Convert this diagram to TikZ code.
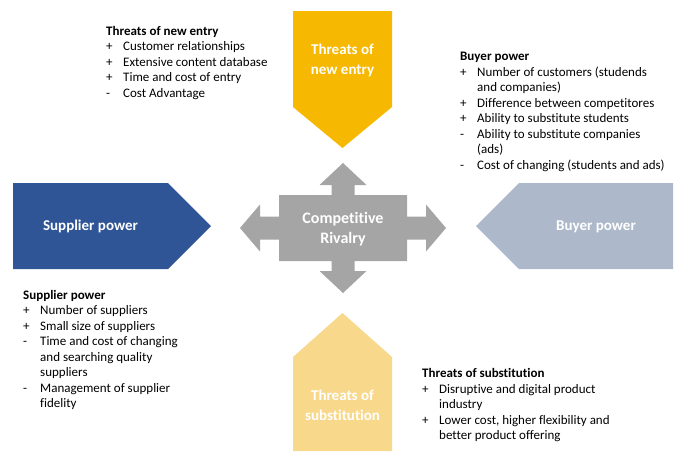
\documentclass[tikz,border=0pt]{standalone}
\usepackage{fontspec}
\setmainfont[Ligatures=NoCommon]{Carlito}
\usepackage{tikz}

\definecolor{entrygold}{HTML}{F6B800}
\definecolor{substgold}{HTML}{F8D98C}
\definecolor{supplierblue}{HTML}{2F5597}
\definecolor{buyerblue}{HTML}{ADB9CA}
\definecolor{rivalgray}{HTML}{A5A5A5}

% one list line: sign in a fixed box, then the text
\newcommand{\signitem}[2]{\makebox[17pt][l]{#1}#2}
\newcommand{\contline}[1]{\hspace*{17pt}#1}

\begin{document}
\begin{tikzpicture}[
  x=1pt,y=-1pt,
  forcelabel/.style={text=white, font=\fontsize{15}{20}\selectfont\bfseries, align=center, inner sep=0pt},
  rivallabel/.style={text=white, font=\fontsize{16}{20}\selectfont\bfseries, align=center, inner sep=0pt},
  listblock/.style={anchor=north west, inner sep=0pt, align=left, font=\fontsize{13}{15.5}\selectfont}
]
  \useasboundingbox (0,0) rectangle (678,451);

  % the four outer forces
  \fill[entrygold] (293,11) -- (392,11) -- (392,107) -- (342.5,148) -- (293,107) -- cycle;
  \fill[substgold] (293,451) -- (293,357) -- (342.5,313) -- (392,357) -- (392,451) -- cycle;
  \fill[supplierblue] (13,183) -- (168,183) -- (211,226) -- (168,269) -- (13,269) -- cycle;
  \fill[buyerblue] (673,183) -- (519,183) -- (476,226) -- (519,269) -- (673,269) -- cycle;

  % four-way arrow in the middle
  \fill[rivalgray, shift={(343,228)}]
    (0,-65) -- (23.5,-43) -- (11.5,-43) -- (11.5,-33) -- (64,-33) -- (64,-11.5)
    -- (83,-11.5) -- (83,-23.5) -- (103,0) -- (83,23.5) -- (83,11.5) -- (64,11.5)
    -- (64,33) -- (11.5,33) -- (11.5,43) -- (23.5,43) -- (0,65) -- (-23.5,43)
    -- (-11.5,43) -- (-11.5,33) -- (-64,33) -- (-64,11.5) -- (-83,11.5) -- (-83,23.5)
    -- (-103,0) -- (-83,-23.5) -- (-83,-11.5) -- (-64,-11.5) -- (-64,-33) -- (-11.5,-33)
    -- (-11.5,-43) -- (-23.5,-43) -- cycle;

  \node[forcelabel] (entry) at (342.5,60) {Threats of\\new entry};
  \node[forcelabel] (subst) at (342.5,405) {Threats of\\substitution};
  \node[forcelabel] (supplier) at (90.5,226) {Supplier power};
  \node[forcelabel] (buyer) at (596,227) {Buyer power};
  \node[rivallabel] (rivalry) at (343,229) {Competitive\\Rivalry};

  % factor lists
  \node[listblock] (entrylist) at (106,26) {\textbf{Threats of new entry}\\
    \signitem{+}{Customer relationships}\\
    \signitem{+}{Extensive content database}\\
    \signitem{+}{Time and cost of entry}\\
    \signitem{-}{Cost Advantage}};

  \node[listblock] (buyerlist) at (460,52) {\textbf{Buyer power}\\
    \signitem{+}{Number of customers (studends}\\
    \contline{and companies)}\\
    \signitem{+}{Difference between competitores}\\
    \signitem{+}{Ability to substitute students}\\
    \signitem{-}{Ability to substitute companies}\\
    \contline{(ads)}\\
    \signitem{-}{Cost of changing (students and ads)}};

  \node[listblock] (supplierlist) at (23,290) {\textbf{Supplier power}\\
    \signitem{+}{Number of suppliers}\\
    \signitem{+}{Small size of suppliers}\\
    \signitem{-}{Time and cost of changing}\\
    \contline{and searching quality}\\
    \contline{suppliers}\\
    \signitem{-}{Management of supplier}\\
    \contline{fidelity}};

  \node[listblock] (substlist) at (422,368.5) {\textbf{Threats of substitution}\\
    \signitem{+}{Disruptive and digital product}\\
    \contline{industry}\\
    \signitem{+}{Lower cost, higher flexibility and}\\
    \contline{better product offering}};
\end{tikzpicture}
\end{document}
